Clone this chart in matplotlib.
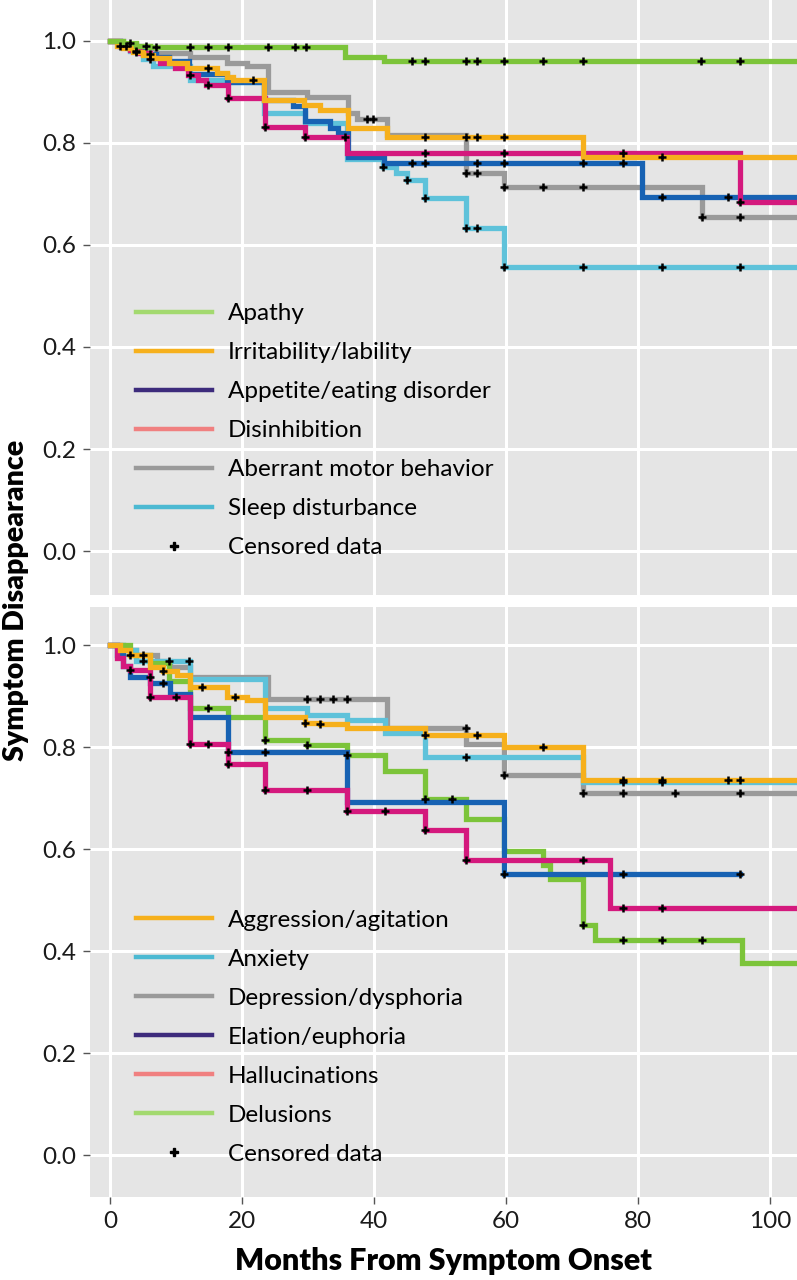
import numpy as np
import matplotlib
matplotlib.use("Agg")
import matplotlib.pyplot as plt
from matplotlib.lines import Line2D

plt.rcParams['font.family'] = ['Lato', 'DejaVu Sans']

# ---- top panel data (months, survival) ----
apathy_t = [0, 2, 4, 6, 35.6, 41.5, 104]
apathy_s = [1.0, 0.995, 0.99, 0.988, 0.969, 0.961, 0.961]
apathy_c = [3, 5.5, 7, 12.1, 14.8, 17.9, 23.9, 28, 29.7, 45.7, 47.7, 53.9, 55.6, 59.7, 65.6, 71.6, 89.6, 95.5]

irrit_t = [0, 1, 2, 3.5, 5, 6.5, 9, 11.7, 16.2, 17.7, 18.7, 23.4, 29.4, 31.8, 36, 42, 71.6, 104]
irrit_s = [1.0, 0.99, 0.985, 0.978, 0.972, 0.967, 0.957, 0.947, 0.937, 0.929, 0.924, 0.884, 0.875, 0.865, 0.83, 0.812, 0.773, 0.773]
irrit_c = [4, 14.8, 21.7, 47.7, 53.9, 55.6, 59.7, 83.6]

appetite_t = [0, 1.5, 3, 5, 7, 9, 12, 17.8, 23.4, 27.8, 29.5, 33.3, 34.5, 36, 41.5, 80.6, 104]
appetite_s = [1.0, 0.99, 0.983, 0.975, 0.968, 0.96, 0.935, 0.92, 0.884, 0.873, 0.842, 0.829, 0.82, 0.773, 0.76, 0.694, 0.694]
appetite_c = [2.5, 6, 45.7, 47.7, 55.6, 59.7, 71.6, 77.8, 83.6, 93.6]

disinh_t = [0, 1.5, 3, 4.5, 6, 7.6, 9.8, 11.8, 13.3, 14.6, 17.9, 23.5, 29.5, 35.9, 95.5, 104]
disinh_s = [1.0, 0.99, 0.982, 0.976, 0.966, 0.956, 0.947, 0.933, 0.924, 0.914, 0.888, 0.832, 0.812, 0.78, 0.684, 0.684]
disinh_c = [1.5, 12.1, 14.8, 17.9, 23.5, 29.5, 35.6, 47.7, 59.7, 77.8, 95.5]

aberrant_t = [0, 2, 4, 7, 12.1, 17.7, 20.7, 24, 29.8, 36, 37.4, 42, 53.9, 59.7, 89.7, 104]
aberrant_s = [1.0, 0.993, 0.985, 0.976, 0.969, 0.957, 0.95, 0.9, 0.89, 0.858, 0.847, 0.816, 0.741, 0.714, 0.655, 0.655]
aberrant_c = [38.9, 39.8, 53.9, 55.6, 59.7, 65.6, 71.6, 89.7, 95.5]

sleep_t = [0, 1.5, 3, 5, 6.5, 12.1, 17.8, 23.4, 29.5, 35.9, 41.4, 43.4, 45, 47.7, 53.9, 59.7, 104]
sleep_s = [1.0, 0.99, 0.98, 0.965, 0.95, 0.924, 0.92, 0.858, 0.839, 0.768, 0.753, 0.741, 0.727, 0.692, 0.634, 0.557, 0.557]
sleep_c = [4, 6, 41.4, 45, 47.7, 53.9, 55.6, 59.7, 71.6, 83.6, 95.5]

# ---- bottom panel data ----
aggr_t = [0, 1.5, 3, 6.1, 8, 10.1, 12.1, 17.7, 20.7, 23.5, 29.5, 31.8, 35.9, 47.7, 59.7, 71.6, 104]
aggr_s = [1.0, 0.99, 0.98, 0.957, 0.95, 0.941, 0.918, 0.899, 0.892, 0.859, 0.848, 0.846, 0.837, 0.824, 0.801, 0.735, 0.735]
aggr_c = [3, 8, 14, 19, 29.5, 31.8, 47.7, 55.6, 65.6, 77.8, 83.6, 93.6, 95.5]

anx_t = [0, 2, 4, 12.1, 23.5, 29.8, 35.9, 41.7, 47.7, 71.6, 104]
anx_s = [1.0, 0.99, 0.97, 0.933, 0.876, 0.863, 0.853, 0.827, 0.781, 0.731, 0.731]
anx_c = [5, 12, 53.9, 77.8, 83.6]

dep_t = [0, 2, 4, 7.1, 9.1, 12.1, 24, 42, 54, 59.7, 71.6, 104]
dep_s = [1.0, 0.99, 0.98, 0.97, 0.957, 0.938, 0.894, 0.838, 0.807, 0.745, 0.71, 0.71]
dep_c = [5, 9, 29.8, 31.8, 33.8, 35.9, 53.9, 59.7, 71.6, 77.8, 85.6, 95.5]

ela_t = [0, 1, 2, 3, 6.1, 9.1, 12.1, 17.9, 35.9, 59.7, 95.5]
ela_s = [1.0, 0.98, 0.96, 0.938, 0.925, 0.905, 0.859, 0.791, 0.693, 0.551, 0.551]
ela_c = [6, 8, 17.9, 23.5, 59.7, 77.8, 95.5]

hall_t = [0, 1, 2, 3, 6.1, 12.1, 17.9, 23.5, 35.9, 47.7, 53.9, 75.8, 104]
hall_s = [1.0, 0.975, 0.96, 0.951, 0.899, 0.807, 0.768, 0.717, 0.675, 0.637, 0.578, 0.484, 0.484]
hall_c = [3, 6.1, 10, 12.1, 14.8, 17.9, 23.5, 29.8, 35.9, 41.7, 47.7, 53.9, 71.7, 77.8, 83.6]

del_t = [0, 3, 6, 9, 12.1, 17.9, 23.5, 29.8, 35.9, 41.7, 47.7, 53.9, 59.7, 65.6, 66.7, 71.7, 73.5, 95.8, 104]
del_s = [1.0, 0.98, 0.965, 0.93, 0.876, 0.859, 0.814, 0.804, 0.784, 0.754, 0.699, 0.659, 0.597, 0.569, 0.541, 0.451, 0.422, 0.376, 0.376]
del_c = [14.8, 23.5, 29.8, 35.9, 47.7, 51.8, 71.7, 77.8, 83.6, 89.7]

# line colour, legend key colour (the legend keys in the original don't match the lines)
GREEN, ORANGE, BLUE, MAGENTA, GRAY, CYAN = '#7cc43a', '#f6b01c', '#1762b3', '#d4197d', '#9a9a9a', '#5ec2da'
K_GREEN, K_PURPLE, K_SALMON, K_CYAN = '#a3d96f', '#3d2b7c', '#f08080', '#4cb9d2'

top = [
    ('Apathy', apathy_t, apathy_s, apathy_c, GREEN, K_GREEN, 6),
    ('Irritability/lability', irrit_t, irrit_s, irrit_c, ORANGE, ORANGE, 5),
    ('Appetite/eating disorder', appetite_t, appetite_s, appetite_c, BLUE, K_PURPLE, 3),
    ('Disinhibition', disinh_t, disinh_s, disinh_c, MAGENTA, K_SALMON, 4),
    ('Aberrant motor behavior', aberrant_t, aberrant_s, aberrant_c, GRAY, GRAY, 1),
    ('Sleep disturbance', sleep_t, sleep_s, sleep_c, CYAN, K_CYAN, 2),
]
bottom = [
    ('Aggression/agitation', aggr_t, aggr_s, aggr_c, ORANGE, ORANGE, 6),
    ('Anxiety', anx_t, anx_s, anx_c, CYAN, K_CYAN, 2),
    ('Depression/dysphoria', dep_t, dep_s, dep_c, GRAY, GRAY, 1),
    ('Elation/euphoria', ela_t, ela_s, ela_c, BLUE, K_PURPLE, 4),
    ('Hallucinations', hall_t, hall_s, hall_c, MAGENTA, K_SALMON, 5),
    ('Delusions', del_t, del_s, del_c, GREEN, K_GREEN, 3),
]

fig = plt.figure(figsize=(7.97, 12.8), dpi=100)
ax1 = fig.add_axes([90 / 797, 1 - 595 / 1280, 707 / 797, 595 / 1280])
ax2 = fig.add_axes([90 / 797, 1 - 1197 / 1280, 707 / 797, 590 / 1280])


def step_val(t, s, x):
    i = np.searchsorted(t, x, side='right') - 1
    return np.asarray(s)[i]


def draw_panel(ax, series, ylim, leg_anchor):
    ax.set_facecolor('#e5e5e5')
    for sp in ax.spines.values():
        sp.set_visible(False)
    ax.set_xlim(-3.03, 104.1)
    ax.set_ylim(*ylim)
    ax.set_xticks([0, 20, 40, 60, 80, 100])
    ax.set_yticks([0, 0.2, 0.4, 0.6, 0.8, 1.0])
    ax.set_yticklabels(['0.0', '0.2', '0.4', '0.6', '0.8', '1.0'])
    ax.grid(True, color='white', lw=2.2)
    ax.set_axisbelow(True)
    ax.tick_params(length=5, width=1, color='#555555', labelsize=17.5, labelcolor='#1a1a1a', pad=5)
    handles = []
    for name, t, s, c, col, kcol, z in series:
        ax.step(t, s, where='post', color=col, lw=3.8, zorder=z, solid_joinstyle='miter')
        cy = [step_val(t, s, x) for x in c]
        ax.plot(c, cy, ls='none', marker='+', ms=6, mew=1.8, color='black', zorder=10)
        handles.append(Line2D([0], [0], color=kcol, lw=3.2))
    handles.append(Line2D([0], [0], ls='none', marker='P', ms=6, color='black'))
    labels = [x[0] for x in series] + ['Censored data']
    ax.legend(handles, labels, loc='upper left', bbox_to_anchor=leg_anchor, frameon=False,
              fontsize=17.5, handlelength=3.1, handletextpad=0.65, labelspacing=0.74,
              borderaxespad=0)


draw_panel(ax1, top, (-0.086, 1.080), (0.052, 0.507))
draw_panel(ax2, bottom, (-0.082, 1.075), (0.052, 0.503))
ax1.tick_params(axis='x', labelbottom=False, length=0)

ax2.set_xlabel('Months From Symptom Onset', fontsize=22, fontweight='heavy', labelpad=11)
fig.text(0.02, 1 - 600 / 1280, 'Symptom Disappearance', rotation=90, fontsize=20.5,
         fontweight='heavy', ha='center', va='center')

fig.savefig('out.png', dpi=100)
